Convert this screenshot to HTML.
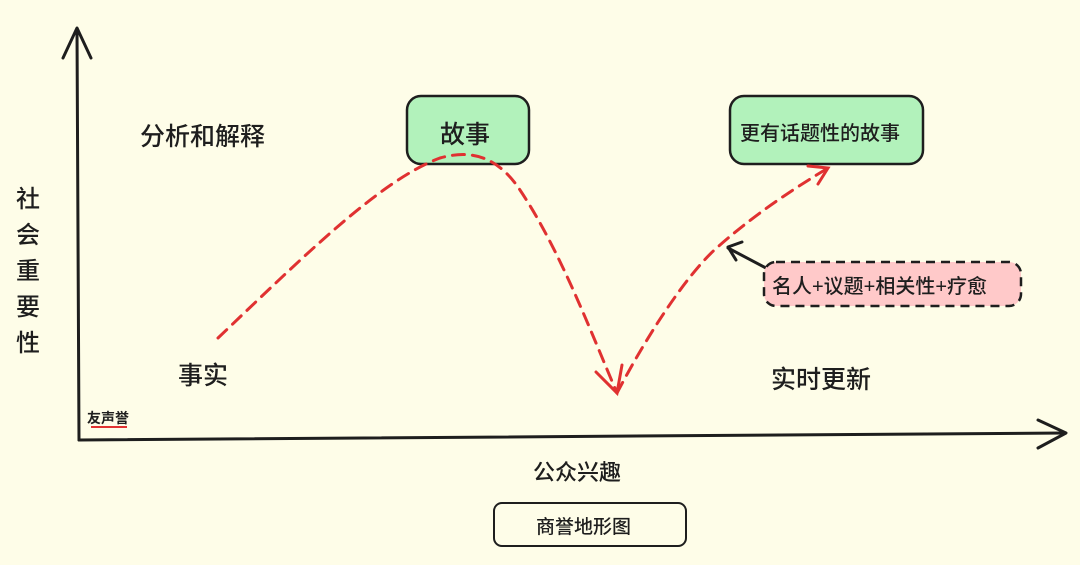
<!DOCTYPE html>
<html><head><meta charset="utf-8"><style>
body{margin:0;width:1080px;height:565px;background:#fefde8;overflow:hidden;font-family:"Liberation Sans","Noto Sans CJK SC",sans-serif;}
.t{position:absolute;color:#1e1e1e;font-size:25px;white-space:nowrap;font-weight:500;}
</style></head><body>
<svg width="1080" height="565" style="position:absolute;left:0;top:0">
<g stroke="#1e1e1e" stroke-width="3" fill="none" stroke-linecap="round" stroke-linejoin="round">
<path d="M79 440 L77 30"/><path d="M63 58 L77 28 L91 58"/>
<path d="M79 440 L1065 433"/><path d="M1038 420 L1066 433 L1038 448"/>
<path d="M766 268 L728 248"/><path d="M742 242 L728 247 L736 260"/>
</g>
<rect x="407" y="96" width="122" height="68" rx="14" fill="#b2f2bb" stroke="#1e1e1e" stroke-width="2.5"/>
<rect x="730" y="96" width="193" height="68" rx="14" fill="#b2f2bb" stroke="#1e1e1e" stroke-width="2.5"/>
<rect x="764" y="262" width="257" height="44" rx="12" fill="#ffc9c9" stroke="#1e1e1e" stroke-width="2.5" stroke-dasharray="9 6"/>
<rect x="494" y="503" width="192" height="43" rx="8" fill="none" stroke="#1e1e1e" stroke-width="2"/>
<g stroke="#e03131" stroke-width="3" fill="none" stroke-dasharray="12 8" stroke-linecap="round">
<path d="M218 338 C300 260 380 180 440 158 C475 148 500 160 520 190 C560 250 590 330 617 393"/>
<path d="M617 393 C650 330 690 270 720 245 C760 210 800 185 828 168"/>
</g>
<g stroke="#e03131" stroke-width="3" fill="none" stroke-linecap="round">
<path d="M596 372 L617 393 L622 365"/>
<path d="M808 166 L828 168 L818 184"/>
</g>
</svg>
<div class="t" style="left:140px;top:117px">分析和解释</div>
<div class="t" style="left:440px;top:115px">故事</div>
<div class="t" style="left:740px;top:117px;font-size:20px">更有话题性的故事</div>
<div class="t" style="left:772px;top:270px;font-size:20px">名人+议题+相关性+疗愈</div>
<div class="t" style="left:178px;top:356px">事实</div>
<div class="t" style="left:771px;top:360px">实时更新</div>
<div class="t" style="left:533px;top:455px;font-size:22px">公众兴趣</div>
<div class="t" style="left:536px;top:512px;font-size:19px">商誉地形图</div>
<div class="t" style="left:16px;top:182px;font-size:24px;line-height:36px;white-space:normal;width:26px">社会重要性</div>
<div class="t" style="left:87px;top:408px;font-size:14px;font-weight:bold">友声誉</div>
<div style="position:absolute;left:91px;top:426px;width:36px;height:2px;background:#e03131"></div>
</body></html>
